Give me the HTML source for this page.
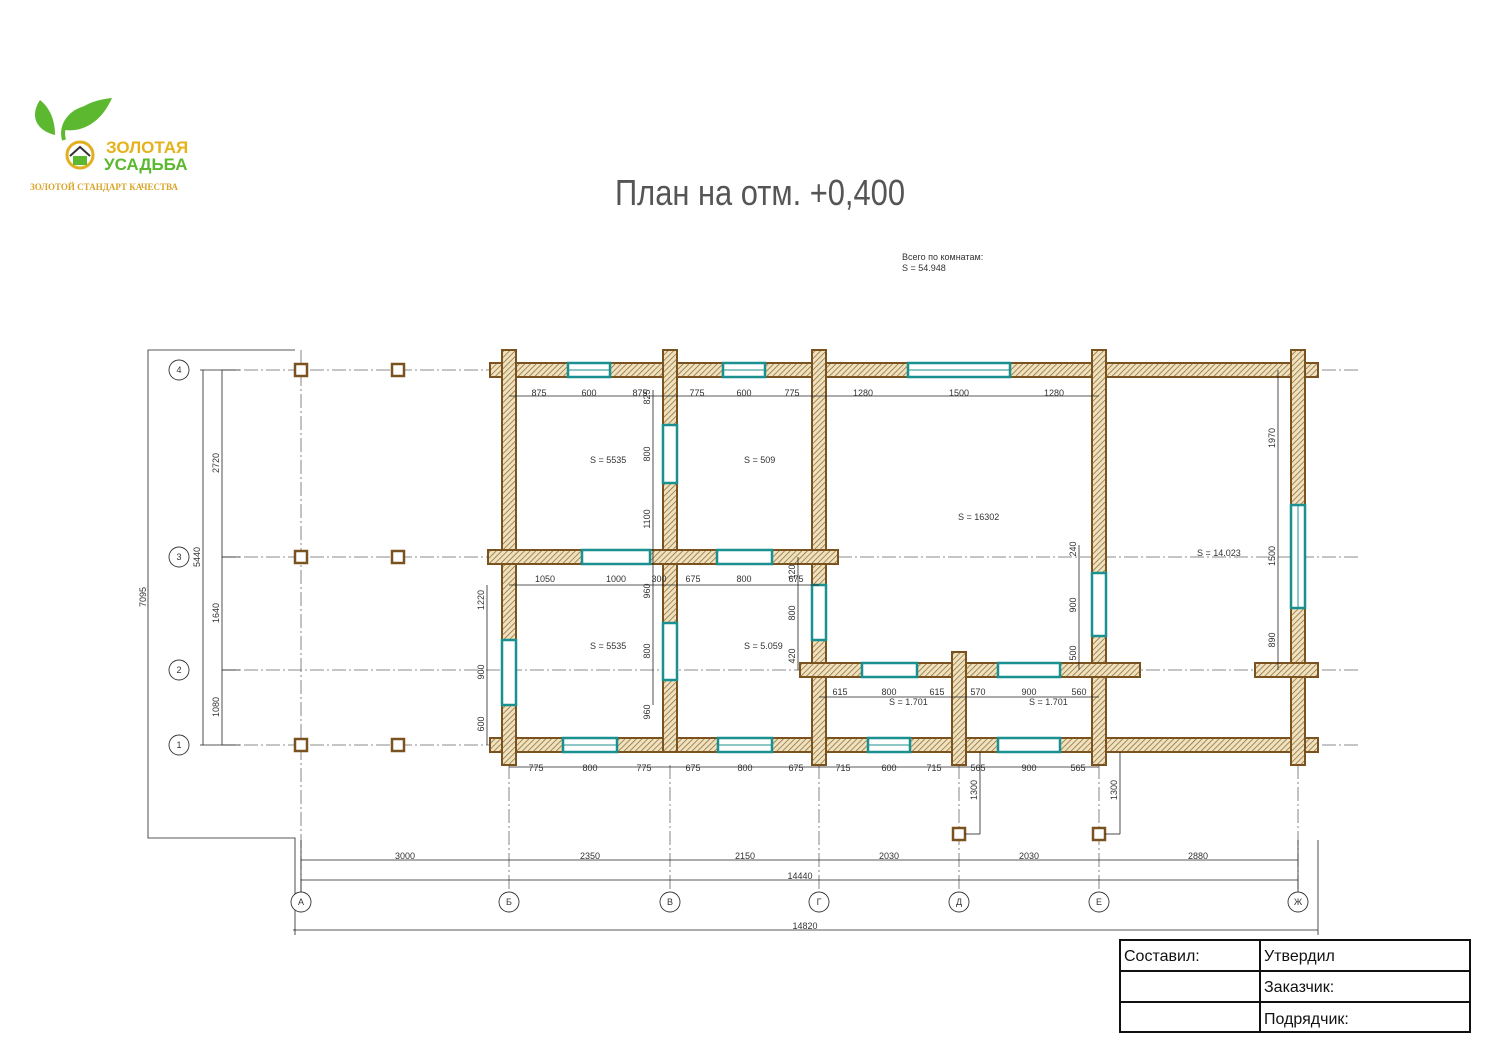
<!DOCTYPE html>
<html><head><meta charset="utf-8"><style>
html,body{margin:0;padding:0;background:#fff;width:1500px;height:1061px;overflow:hidden}
svg{display:block}
.t{font-family:"Liberation Sans Narrow","Liberation Sans",sans-serif;font-size:9px;fill:#333}
</style></head><body>
<svg width="1500" height="1061" viewBox="0 0 1500 1061" xmlns="http://www.w3.org/2000/svg">
<defs>
<pattern id="h" width="4" height="4" patternUnits="userSpaceOnUse" patternTransform="rotate(45)">
<rect width="4" height="4" fill="#f0e2c0"/><line x1="0" y1="0" x2="0" y2="4" stroke="#8a6a30" stroke-width="1.5"/>
</pattern>
</defs>

<!-- logo -->
<path d="M40 100 C30 115 35 130 55 135 C55 120 50 108 40 100Z" fill="#5cb82e"/>
<path d="M112 98 C90 100 70 110 65 130 C80 132 100 125 112 98Z" fill="#5cb82e"/>
<path d="M64 140 C60 125 70 112 85 108" stroke="#5cb82e" stroke-width="4" fill="none"/>
<circle cx="80" cy="155" r="13" fill="#fff" stroke="#e0b020" stroke-width="3"/>
<path d="M70 156 L80 147 L90 156" stroke="#333" stroke-width="2" fill="none"/>
<rect x="73" y="156" width="14" height="9" fill="#5cb82e"/>
<text x="106" y="153" font-family="Liberation Sans Narrow,Liberation Sans,sans-serif" font-size="17" font-weight="bold" fill="#e6b21c">ЗОЛОТАЯ</text>
<text x="104" y="170" font-family="Liberation Sans Narrow,Liberation Sans,sans-serif" font-size="17" font-weight="bold" fill="#5cb82e">УСАДЬБА</text>
<text x="30" y="190" font-family="Liberation Serif,serif" font-size="9" font-weight="bold" fill="#d9a52a">ЗОЛОТОЙ СТАНДАРТ КАЧЕСТВА</text>

<!-- title -->
<text x="615" y="205" font-family="Liberation Sans Narrow,Liberation Sans,sans-serif" font-size="36" fill="#555" textLength="290" lengthAdjust="spacingAndGlyphs">План на отм. +0,400</text>
<text x="902" y="260" class="t" font-size="8">Всего по комнатам:</text>
<text x="902" y="271" class="t" font-size="8">S  =  54.948</text>

<!-- axis lines -->
<g stroke="#666" stroke-width="0.8" stroke-dasharray="14,3,2,3" fill="none">
<line x1="222" y1="370" x2="1360" y2="370"/>
<line x1="222" y1="557" x2="1360" y2="557"/>
<line x1="222" y1="670" x2="1360" y2="670"/>
<line x1="222" y1="745" x2="1360" y2="745"/>
<line x1="301" y1="350" x2="301" y2="892"/>
<line x1="509" y1="765" x2="509" y2="892"/>
<line x1="670" y1="765" x2="670" y2="892"/>
<line x1="819" y1="765" x2="819" y2="892"/>
<line x1="959" y1="765" x2="959" y2="892"/>
<line x1="1099" y1="765" x2="1099" y2="892"/>
<line x1="1298" y1="765" x2="1298" y2="892"/>
</g>

<!-- walls -->
<g fill="url(#h)" stroke="#7a5220" stroke-width="2">
<rect x="490" y="363" width="828" height="14"/>
<rect x="490" y="738" width="828" height="14"/>
<rect x="502" y="350" width="14" height="415"/>
<rect x="663" y="350" width="14" height="402"/>
<rect x="812" y="350" width="14" height="415"/>
<rect x="1092" y="350" width="14" height="415"/>
<rect x="1291" y="350" width="14" height="415"/>
<rect x="488" y="550" width="350" height="14"/>
<rect x="800" y="663" width="340" height="14"/>
<rect x="1255" y="663" width="63" height="14"/>
<rect x="952" y="652" width="14" height="113"/>
</g>
<g fill="url(#h)" stroke="none">
<rect x="503" y="364" width="12" height="12"/><rect x="664" y="364" width="12" height="12"/><rect x="813" y="364" width="12" height="12"/><rect x="1093" y="364" width="12" height="12"/><rect x="1292" y="364" width="12" height="12"/>
<rect x="503" y="739" width="12" height="12"/><rect x="664" y="739" width="12" height="12"/><rect x="813" y="739" width="12" height="12"/><rect x="953" y="739" width="12" height="12"/><rect x="1093" y="739" width="12" height="12"/><rect x="1292" y="739" width="12" height="12"/>
<rect x="503" y="551" width="12" height="12"/><rect x="664" y="551" width="12" height="12"/><rect x="813" y="551" width="12" height="12"/>
<rect x="813" y="664" width="12" height="12"/><rect x="953" y="664" width="12" height="12"/><rect x="1093" y="664" width="12" height="12"/><rect x="1292" y="664" width="12" height="12"/>
</g>

<!-- windows -->
<g fill="#fff" stroke="#1a9090" stroke-width="2.5">
<rect x="568" y="363" width="42" height="14"/><rect x="723" y="363" width="42" height="14"/><rect x="908" y="363" width="102" height="14"/>
<rect x="582" y="550" width="68" height="14"/><rect x="717" y="550" width="55" height="14"/>
<rect x="663" y="425" width="14" height="58"/><rect x="663" y="623" width="14" height="57"/>
<rect x="502" y="640" width="14" height="65"/><rect x="812" y="585" width="14" height="55"/>
<rect x="1092" y="573" width="14" height="63"/><rect x="1291" y="505" width="14" height="103"/>
<rect x="862" y="663" width="55" height="14"/><rect x="998" y="663" width="62" height="14"/>
<rect x="563" y="738" width="54" height="14"/><rect x="718" y="738" width="54" height="14"/><rect x="868" y="738" width="42" height="14"/><rect x="998" y="738" width="62" height="14"/>
</g>
<g stroke="#1a9090" stroke-width="1">
<line x1="568" y1="370" x2="610" y2="370"/><line x1="723" y1="370" x2="765" y2="370"/><line x1="908" y1="370" x2="1010" y2="370"/>
<line x1="563" y1="745" x2="617" y2="745"/><line x1="718" y1="745" x2="772" y2="745"/><line x1="868" y1="745" x2="910" y2="745"/>
<line x1="1298" y1="505" x2="1298" y2="608"/>
</g>

<!-- columns -->
<g fill="#fff" stroke="#7a5220" stroke-width="2.5">
<rect x="295" y="364" width="12" height="12"/><rect x="392" y="364" width="12" height="12"/>
<rect x="295" y="551" width="12" height="12"/><rect x="392" y="551" width="12" height="12"/>
<rect x="295" y="739" width="12" height="12"/><rect x="392" y="739" width="12" height="12"/>
<rect x="953" y="828" width="12" height="12"/><rect x="1093" y="828" width="12" height="12"/>
</g>

<!-- dimension lines -->
<g stroke="#222" stroke-width="0.8" fill="none">
<path d="M295 350 H148 V838 H295 V935"/>
<line x1="203" y1="370" x2="203" y2="745"/><line x1="222" y1="370" x2="222" y2="745"/>
<line x1="200" y1="370" x2="240" y2="370"/><line x1="200" y1="745" x2="240" y2="745"/>
<line x1="222" y1="557" x2="240" y2="557"/><line x1="222" y1="670" x2="240" y2="670"/>
<line x1="301" y1="860" x2="1298" y2="860"/><line x1="301" y1="880" x2="1298" y2="880"/><line x1="293" y1="930" x2="1318" y2="930"/>
<line x1="301" y1="840" x2="301" y2="892"/><line x1="1298" y1="840" x2="1298" y2="892"/><line x1="1318" y1="840" x2="1318" y2="935"/>
<line x1="509" y1="396" x2="1099" y2="396"/>
<line x1="509" y1="585" x2="819" y2="585"/>
<line x1="819" y1="697" x2="1099" y2="697"/>
<line x1="509" y1="767" x2="1099" y2="767"/>
<line x1="653" y1="390" x2="653" y2="705"/>
<line x1="487" y1="585" x2="487" y2="745"/>
<line x1="798" y1="557" x2="798" y2="670"/>
<line x1="1079" y1="545" x2="1079" y2="670"/>
<line x1="1278" y1="370" x2="1278" y2="670"/>
<line x1="980" y1="752" x2="980" y2="834"/><line x1="1120" y1="752" x2="1120" y2="834"/>
<line x1="965" y1="834" x2="980" y2="834"/><line x1="1105" y1="834" x2="1120" y2="834"/>
</g>

<!-- axis circles -->
<g fill="#fff" stroke="#333" stroke-width="0.9">
<circle cx="179" cy="370" r="10"/><circle cx="179" cy="557" r="10"/><circle cx="179" cy="670" r="10"/><circle cx="179" cy="745" r="10"/>
<circle cx="301" cy="902" r="10"/><circle cx="509" cy="902" r="10"/><circle cx="670" cy="902" r="10"/><circle cx="819" cy="902" r="10"/><circle cx="959" cy="902" r="10"/><circle cx="1099" cy="902" r="10"/><circle cx="1298" cy="902" r="10"/>
</g>
<g class="t" text-anchor="middle">
<text x="179" y="373">4</text><text x="179" y="560">3</text><text x="179" y="673">2</text><text x="179" y="748">1</text>
<text x="301" y="905">А</text><text x="509" y="905">Б</text><text x="670" y="905">В</text><text x="819" y="905">Г</text><text x="959" y="905">Д</text><text x="1099" y="905">Е</text><text x="1298" y="905">Ж</text>
<text x="405" y="859">3000</text><text x="590" y="859">2350</text><text x="745" y="859">2150</text><text x="889" y="859">2030</text><text x="1029" y="859">2030</text><text x="1198" y="859">2880</text>
<text x="800" y="879">14440</text><text x="805" y="929">14820</text>
<text x="539" y="396">875</text><text x="589" y="396">600</text><text x="640" y="396">875</text>
<text x="697" y="396">775</text><text x="744" y="396">600</text><text x="792" y="396">775</text>
<text x="863" y="396">1280</text><text x="959" y="396">1500</text><text x="1054" y="396">1280</text>
<text x="545" y="582">1050</text><text x="616" y="582">1000</text><text x="659" y="582">300</text>
<text x="693" y="582">675</text><text x="744" y="582">800</text><text x="796" y="582">675</text>
<text x="840" y="695">615</text><text x="889" y="695">800</text><text x="937" y="695">615</text>
<text x="978" y="695">570</text><text x="1029" y="695">900</text><text x="1079" y="695">560</text>
<text x="536" y="771">775</text><text x="590" y="771">800</text><text x="644" y="771">775</text>
<text x="693" y="771">675</text><text x="745" y="771">800</text><text x="796" y="771">675</text>
<text x="843" y="771">715</text><text x="889" y="771">600</text><text x="934" y="771">715</text>
<text x="978" y="771">565</text><text x="1029" y="771">900</text><text x="1078" y="771">565</text>
</g>
<g class="t">
<text x="590" y="463">S  =  5535</text><text x="744" y="463">S  =  509</text>
<text x="958" y="520">S  =  16302</text><text x="1197" y="556">S  =  14.023</text>
<text x="590" y="649">S  =  5535</text><text x="744" y="649">S  =  5.059</text>
<text x="889" y="705">S  =  1.701</text><text x="1029" y="705">S  =  1.701</text>
</g>
<g class="t" text-anchor="middle">
<text transform="translate(219,463) rotate(-90)">2720</text>
<text transform="translate(219,613) rotate(-90)">1640</text>
<text transform="translate(219,707) rotate(-90)">1080</text>
<text transform="translate(200,557) rotate(-90)">5440</text>
<text transform="translate(146,597) rotate(-90)">7095</text>
<text transform="translate(650,397) rotate(-90)">825</text>
<text transform="translate(650,454) rotate(-90)">800</text>
<text transform="translate(650,519) rotate(-90)">1100</text>
<text transform="translate(650,591) rotate(-90)">960</text>
<text transform="translate(650,651) rotate(-90)">800</text>
<text transform="translate(650,712) rotate(-90)">960</text>
<text transform="translate(484,600) rotate(-90)">1220</text>
<text transform="translate(484,672) rotate(-90)">900</text>
<text transform="translate(484,724) rotate(-90)">600</text>
<text transform="translate(795,572) rotate(-90)">120</text>
<text transform="translate(795,613) rotate(-90)">800</text>
<text transform="translate(795,656) rotate(-90)">420</text>
<text transform="translate(1076,549) rotate(-90)">240</text>
<text transform="translate(1076,605) rotate(-90)">900</text>
<text transform="translate(1076,653) rotate(-90)">500</text>
<text transform="translate(1275,438) rotate(-90)">1970</text>
<text transform="translate(1275,556) rotate(-90)">1500</text>
<text transform="translate(1275,640) rotate(-90)">890</text>
<text transform="translate(977,790) rotate(-90)">1300</text>
<text transform="translate(1117,790) rotate(-90)">1300</text>
</g>

<!-- table -->
<g stroke="#111" stroke-width="2" fill="none">
<rect x="1120" y="940" width="350" height="92"/>
<line x1="1120" y1="971" x2="1470" y2="971"/><line x1="1120" y1="1002" x2="1470" y2="1002"/>
<line x1="1260" y1="940" x2="1260" y2="1032"/>
</g>
<g font-family="Liberation Sans,sans-serif" font-size="16" fill="#111">
<text x="1124" y="961">Составил:</text><text x="1264" y="961">Утвердил</text>
<text x="1264" y="992">Заказчик:</text><text x="1264" y="1024">Подрядчик:</text>
</g>
</svg>
</body></html>
